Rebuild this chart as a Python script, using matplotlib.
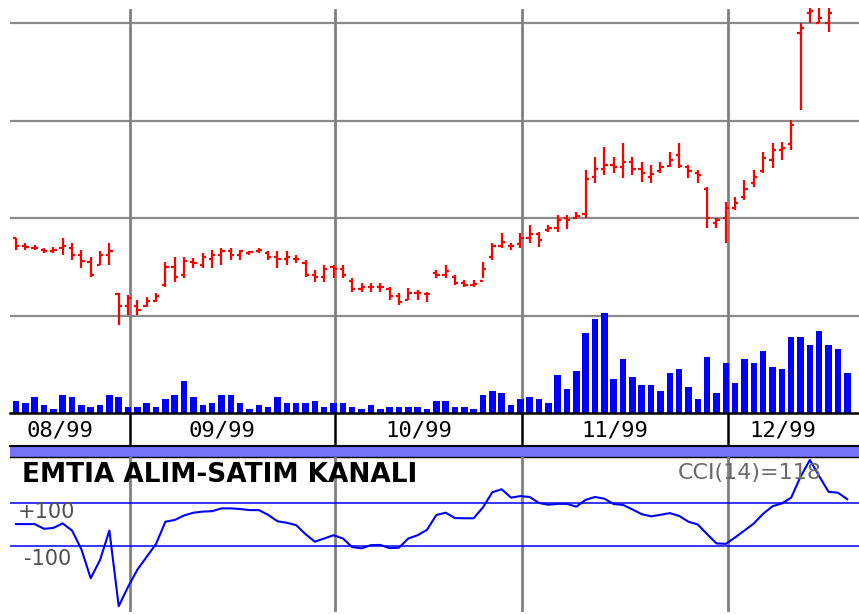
import matplotlib
matplotlib.use('Agg')
import matplotlib.pyplot as plt
import numpy as np

# gunluk bar verisi (Agustos - Aralik 1999)
yuksek = [1280, 1275, 1273, 1270, 1271, 1280, 1275, 1268, 1260, 1266,
          1275, 1224, 1221, 1216, 1219, 1224, 1255, 1260, 1260, 1259,
          1264, 1268, 1270, 1270, 1268, 1266, 1270, 1266, 1267, 1266,
          1262, 1257, 1247, 1252, 1252, 1252, 1239, 1234, 1234, 1234,
          1230, 1224, 1229, 1227, 1225, 1247, 1252, 1242, 1237, 1237,
          1255, 1275, 1285, 1275, 1285, 1293, 1286, 1293, 1303, 1303,
          1306, 1349, 1363, 1373, 1363, 1377, 1363, 1358, 1355, 1358,
          1368, 1377, 1355, 1349, 1332, 1300, 1317, 1322, 1339, 1349,
          1368, 1377, 1378, 1401, 1500, 1530, 1530, 1530]
dusuk = [1268, 1268, 1268, 1264, 1264, 1262, 1257, 1249, 1240, 1252,
         1252, 1191, 1201, 1201, 1209, 1214, 1230, 1235, 1239, 1249,
         1249, 1249, 1252, 1257, 1257, 1262, 1264, 1257, 1249, 1252,
         1254, 1240, 1235, 1235, 1239, 1239, 1225, 1225, 1225, 1225,
         1216, 1211, 1216, 1216, 1214, 1239, 1239, 1232, 1230, 1230,
         1239, 1257, 1270, 1268, 1270, 1275, 1271, 1286, 1286, 1289,
         1299, 1300, 1336, 1344, 1346, 1341, 1344, 1337, 1336, 1346,
         1352, 1351, 1341, 1336, 1290, 1290, 1275, 1308, 1319, 1332,
         1346, 1351, 1360, 1370, 1411, 1500, 1500, 1491]
acilis = [1280, 1272, 1270, 1268, 1266, 1270, 1270, 1262, 1255, 1252,
          1262, 1222, 1210, 1210, 1210, 1215, 1232, 1250, 1242, 1255,
          1252, 1258, 1262, 1266, 1262, 1264, 1266, 1264, 1260, 1258,
          1258, 1254, 1242, 1240, 1250, 1248, 1236, 1228, 1230, 1230,
          1228, 1220, 1216, 1224, 1222, 1244, 1242, 1240, 1234, 1232,
          1236, 1260, 1272, 1272, 1274, 1280, 1284, 1288, 1290, 1300,
          1300, 1304, 1342, 1350, 1355, 1352, 1358, 1350, 1342, 1348,
          1354, 1365, 1352, 1346, 1330, 1295, 1300, 1310, 1322, 1336,
          1348, 1360, 1370, 1376, 1490, 1510, 1500, 1500]
kapanis = [1272, 1271, 1270, 1266, 1268, 1272, 1262, 1256, 1242, 1262,
           1266, 1210, 1218, 1206, 1215, 1220, 1250, 1240, 1256, 1254,
           1260, 1262, 1266, 1262, 1266, 1265, 1268, 1260, 1258, 1260,
           1258, 1242, 1240, 1248, 1248, 1242, 1228, 1230, 1230, 1230,
           1220, 1214, 1224, 1224, 1222, 1242, 1246, 1234, 1232, 1233,
           1248, 1272, 1276, 1272, 1280, 1284, 1278, 1290, 1298, 1298,
           1302, 1340, 1350, 1355, 1352, 1358, 1350, 1346, 1345, 1352,
           1360, 1354, 1348, 1344, 1300, 1298, 1310, 1316, 1330, 1342,
           1362, 1370, 1372, 1395, 1495, 1512, 1505, 1510]
hacim = [12, 10, 16, 8, 4, 18, 16, 8, 6, 8,
         18, 16, 6, 6, 10, 6, 14, 18, 32, 16,
         8, 10, 18, 18, 10, 4, 8, 6, 16, 10,
         10, 10, 12, 6, 10, 10, 6, 4, 8, 4,
         6, 6, 6, 6, 4, 12, 12, 6, 6, 4,
         18, 22, 20, 8, 14, 16, 14, 10, 38, 24,
         42, 80, 94, 100, 34, 54, 36, 28, 28, 22,
         40, 44, 26, 14, 56, 20, 50, 30, 54, 50,
         62, 46, 44, 76, 76, 68, 82, 68, 64, 40]
cci = [2, 2, 2, -20, -16, 5, -28, -115, -250, -165,
       -28, -380, -290, -210, -150, -90, 13, 21, 42, 55,
       60, 62, 75, 75, 72, 67, 67, 45, 15, 8,
       -3, -45, -80, -65, -50, -65, -105, -111, -96, -95,
       -110, -108, -65, -50, -25, 44, 55, 30, 29, 29,
       80, 150, 164, 125, 132, 128, 100, 92, 96, 96,
       83, 115, 128, 120, 95, 91, 70, 48, 38, 45,
       53, 40, 13, 0, -45, -88, -90, -60, -28, 5,
       50, 85, 98, 125, 222, 300, 225, 152, 148, 118]

aylar = ['08/99', '09/99', '10/99', '11/99', '12/99']
ay_son_bar = [12, 34, 54, 76]   # her ayin son bari
fiyat_grid = [1200, 1300, 1400, 1500]
cci_seviye = [100, -100]

W, H = 859, 614


def kutu(x0, y0, x1, y1):
    # piksel kutusunu figure oranina cevir
    return [x0 / W, 1 - y1 / H, (x1 - x0) / W, (y1 - y0) / H]


x = np.arange(len(hacim))
xf = np.arange(len(yuksek))
ayrac = [b + 0.2 for b in ay_son_bar]
xlim = (-0.64, 90.26)

fig = plt.figure(figsize=(W / 100, H / 100), dpi=100)

# fiyat paneli
ax = fig.add_axes(kutu(10, 8, 859, 413))
ax.set_xlim(xlim)
ax.set_ylim(1100.7, 1515.2)
for g in fiyat_grid:
    ax.axhline(g, color='#8a8a8a', lw=1.6, zorder=1)
for a in ayrac:
    ax.axvline(a, ymax=1 - 2 / 405, color='#808080', lw=2.0, zorder=1)
ax.vlines(xf, dusuk, yuksek, color='#ff0000', lw=1.6, zorder=3)
ax.hlines(acilis, xf - 0.35, xf, color='#ff0000', lw=1.6, zorder=3)
ax.hlines(kapanis, xf, xf + 0.35, color='#ff0000', lw=1.6, zorder=3)
ax.axis('off')

axv = ax.twinx()
axv.set_ylim(0, 405)
axv.bar(x, hacim, width=0.7, color='#0000ff', zorder=3)
axv.set_xlim(xlim)
axv.axis('off')

# ay etiketleri
axl = fig.add_axes(kutu(10, 413, 859, 446))
axl.set_xlim(xlim)
axl.set_ylim(0, 1)
axl.set_xticks([])
axl.set_yticks([])
for s in ['left', 'right']:
    axl.spines[s].set_visible(False)
axl.spines['top'].set_linewidth(1.8)
axl.spines['bottom'].set_linewidth(1.5)
for a in ayrac:
    axl.axvline(a, color='black', lw=1.8)
sinirlar = [xlim[0]] + ayrac + [xlim[1]]
for i, et in enumerate(aylar):
    orta = (sinirlar[i] + sinirlar[i + 1]) / 2 - 1.1
    axl.text(orta, 0.47, et, ha='center', va='center', fontsize=16,
             family='DejaVu Sans Mono', color='black')

# mavi serit
axb = fig.add_axes(kutu(10, 446, 859, 457))
axb.set_facecolor('#7474f4')
axb.set_xticks([])
axb.set_yticks([])
for s in ['left', 'right']:
    axb.spines[s].set_visible(False)
axb.spines['top'].set_linewidth(0.8)
axb.spines['bottom'].set_linewidth(1.0)

# CCI paneli
axc = fig.add_axes(kutu(10, 457, 859, 614))
axc.set_xlim(xlim)
axc.set_ylim(-416.3, 314.0)
for a in ayrac:
    axc.axvline(a, ymin=4 / 157, color='#808080', lw=2.0, zorder=1)
for s in cci_seviye:
    axc.axhline(s, color='#0000ff', lw=1.1, zorder=2)
axc.plot(x, cci, color='#0000ff', lw=1.5, zorder=3)
axc.axis('off')

fig.text(22 / W, 1 - 475 / H, 'EMTIA ALIM-SATIM KANALI', fontsize=19,
         fontweight='bold', color='black', va='center', ha='left')
fig.text(678 / W, 1 - 473 / H, 'CCI(14)=118', fontsize=16,
         color='#6a6a6a', va='center', ha='left')
fig.text(18 / W, 1 - 512 / H, '+100', fontsize=15, color='#505050',
         va='center', ha='left')
fig.text(24 / W, 1 - 559 / H, '-100', fontsize=15, color='#505050',
         va='center', ha='left')

plt.savefig('out.png', dpi=100)
plt.close()
